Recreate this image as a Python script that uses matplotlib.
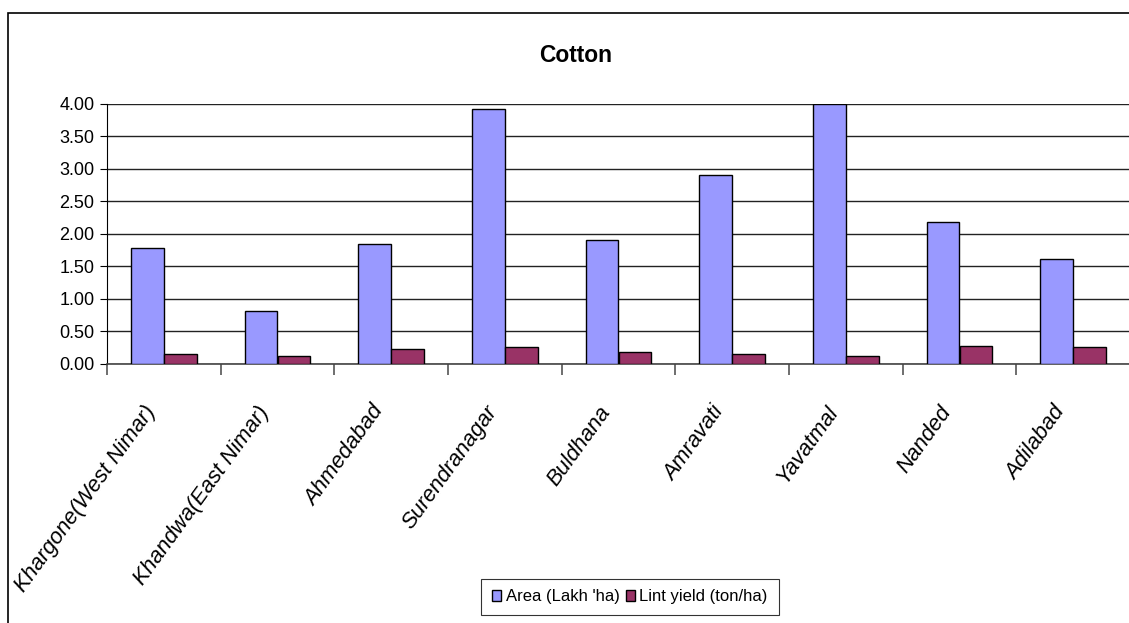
import numpy as np
import matplotlib
matplotlib.use('Agg')
import matplotlib.pyplot as plt
from matplotlib.patches import Rectangle
from matplotlib.ticker import FixedLocator, FormatStrFormatter
from matplotlib.transforms import ScaledTranslation

plt.rcParams['font.family'] = ['Liberation Sans', 'DejaVu Sans']

# District-wise cotton data
districts = ['Khargone(West Nimar)', 'Khandwa(East Nimar)', 'Ahmedabad', 'Surendranagar',
             'Buldhana', 'Amravati', 'Yavatmal', 'Nanded', 'Adilabad']
area = [1.78, 0.81, 1.84, 3.93, 1.90, 2.90, 4.00, 2.18, 1.62]
lint_yield = [0.15, 0.12, 0.22, 0.25, 0.18, 0.15, 0.12, 0.28, 0.25]

fig = plt.figure(figsize=(11.29, 6.23), dpi=100)

# chart area border (only left and top edges fall inside the image)
fig.patches.append(Rectangle((8 / 1129, -0.05), 1.2, 1 - 13 / 623 + 0.05,
                             transform=fig.transFigure, fill=False,
                             edgecolor='black', linewidth=1.2))

ax = fig.add_axes([107 / 1129, 1 - 363.7 / 623, 1023 / 1129, (363.7 - 104) / 623])

x = np.arange(len(districts))
w = 0.288
ax.bar(x - w / 2, area, w, color='#9999FF', edgecolor='black', linewidth=1,
       label="Area (Lakh 'ha)", zorder=3)
ax.bar(x + w / 2, lint_yield, w, color='#993366', edgecolor='black', linewidth=1,
       label='Lint yield (ton/ha)', zorder=3)

ax.set_xlim(-0.5, len(districts) - 0.5)
ax.set_ylim(0, 4)
ax.set_yticks(np.arange(0, 4.01, 0.5))
ax.yaxis.set_major_formatter(FormatStrFormatter('%.2f'))
ax.yaxis.grid(True, color='#222222', linewidth=1)
ax.set_axisbelow(True)

ax.spines['top'].set_visible(False)
ax.spines['right'].set_visible(False)
ax.spines['left'].set_color('black')
ax.spines['bottom'].set_color('#444444')
ax.spines['bottom'].set_linewidth(1.2)

ax.tick_params(axis='y', labelsize=13, length=5, color='black', pad=4)
ax.set_xticks(x)
ax.set_xticklabels(districts, rotation=54, ha='right', va='center',
                   rotation_mode='anchor', fontsize=15.8, style='italic')
ax.tick_params(axis='x', which='major', length=0, pad=32)
shift = ScaledTranslation(-12 / 100, 0, fig.dpi_scale_trans)
for lab in ax.get_xticklabels():
    lab.set_transform(lab.get_transform() + shift)
ax.xaxis.set_minor_locator(FixedLocator(np.arange(-0.5, len(districts), 1.0)))
ax.tick_params(axis='x', which='minor', length=8, color='#555555', width=1.2)

fig.text(576 / 1129, 1 - 55 / 623, 'Cotton', ha='center', va='center',
         fontsize=16.4, fontweight='bold')

leg = fig.legend(loc='center', bbox_to_anchor=(630 / 1129, 1 - 597 / 623), ncol=2,
                 fontsize=12, frameon=True, fancybox=False, handlelength=0.55,
                 handleheight=0.65, handletextpad=0.25, columnspacing=0.4,
                 borderpad=0.65, borderaxespad=0)
leg.get_frame().set_edgecolor('black')
leg.get_frame().set_linewidth(0.8)

fig.savefig('out.png', dpi=100)
